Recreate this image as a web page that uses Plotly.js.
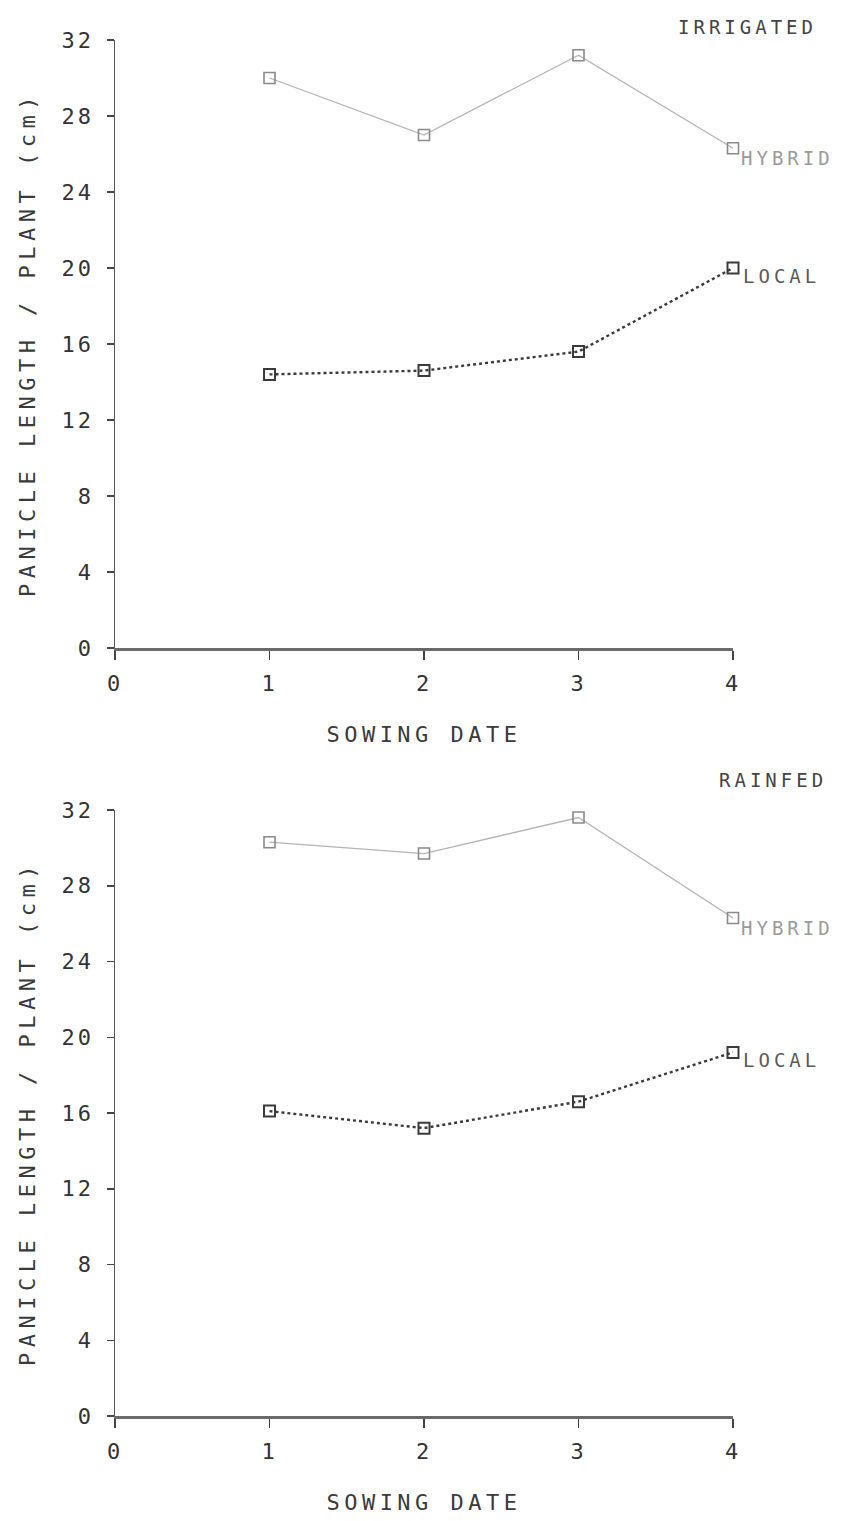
<!DOCTYPE html>
<html>
<head>
<meta charset="utf-8">
<script src="https://cdn.plot.ly/plotly-3.0.1.min.js"></script>
<style>
  html, body { margin: 0; padding: 0; background: #fff; }
  #chart { width: 854px; height: 1521px; }
  .main-svg text { letter-spacing: 3px; }
  .main-svg .xtitle, .main-svg .x2title { letter-spacing: 4.5px; }
  .main-svg .ytitle, .main-svg .y2title { letter-spacing: 5.5px; }
  .main-svg .annotation-text { letter-spacing: 4px; }
</style>
</head>
<body>
<div id="chart"></div>
<script>
// Data
const sowingDates = [1, 2, 3, 4];
const irrigatedHybrid = [30.0, 27.0, 31.2, 26.3];
const irrigatedLocal  = [14.4, 14.6, 15.6, 20.0];
const rainfedHybrid   = [30.3, 29.7, 31.6, 26.3];
const rainfedLocal    = [16.1, 15.2, 16.6, 19.2];
const xTickVals = [0, 1, 2, 3, 4];
const yTickVals = [0, 4, 8, 12, 16, 20, 24, 28, 32];
const panelTitles = ['IRRIGATED', 'RAINFED'];
const seriesNames = ['HYBRID', 'LOCAL'];
const xTitle = 'SOWING DATE';
const yTitle = 'PANICLE LENGTH / PLANT (cm)';

const FONT = 'DejaVu Sans Mono, Liberation Mono, monospace';

function hybridTrace(y, xa, ya) {
  return {
    x: sowingDates, y: y, xaxis: xa, yaxis: ya, name: seriesNames[0],
    mode: 'lines+markers', cliponaxis: false,
    line: { color: '#b4b4b4', width: 1.3 },
    marker: { symbol: 'square-open', size: 11, color: '#8a8a8a', line: { width: 1.6, color: '#8a8a8a' } }
  };
}
function localTrace(y, xa, ya) {
  return {
    x: sowingDates, y: y, xaxis: xa, yaxis: ya, name: seriesNames[1],
    mode: 'lines+markers', cliponaxis: false,
    line: { color: '#3a3a3a', width: 2.4, dash: 'dot' },
    marker: { symbol: 'square-open', size: 11, color: '#3a3a3a', line: { width: 2, color: '#3a3a3a' } }
  };
}

const data = [
  hybridTrace(irrigatedHybrid, 'x', 'y'),
  localTrace(irrigatedLocal, 'x', 'y'),
  hybridTrace(rainfedHybrid, 'x2', 'y2'),
  localTrace(rainfedLocal, 'x2', 'y2')
];

function xAxis(anchor) {
  return {
    domain: [0, 1], anchor: anchor, range: [0, 4], tickvals: xTickVals,
    showgrid: false, zeroline: false, showline: true, linecolor: '#6a6a6a', linewidth: 2.5,
    ticks: 'outside', ticklen: 9, tickwidth: 1.5, tickcolor: '#444',
    ticklabelstandoff: 5,
    tickfont: { family: FONT, size: 22, color: '#333' },
    title: { text: xTitle, font: { family: FONT, size: 22, color: '#3a3a3a' }, standoff: 32 },
    automargin: false, fixedrange: true
  };
}
function yAxis(domain, anchor) {
  return {
    domain: domain, anchor: anchor, range: [0, 32], tickvals: yTickVals,
    showgrid: false, zeroline: false, showline: true, linecolor: '#555', linewidth: 1.5,
    ticks: 'outside', ticklen: 7, tickwidth: 1.5, tickcolor: '#444',
    ticklabelstandoff: 8,
    tickfont: { family: FONT, size: 22, color: '#333' },
    title: { text: yTitle, font: { family: FONT, size: 22, color: '#3a3a3a' }, standoff: 26 },
    automargin: false, fixedrange: true
  };
}

const topDomain = [1 - 648 / 1521, 1 - 40 / 1521];
const botDomain = [1 - 1416 / 1521, 1 - 810 / 1521];

function seriesLabel(text, xa, ya, yVal, color, yshift) {
  return {
    text: text, xref: xa, yref: ya, x: 4, y: yVal, xanchor: 'left', yanchor: 'middle',
    xshift: 18, yshift: yshift, showarrow: false,
    font: { family: FONT, size: 19, color: color }
  };
}

const layout = {
  width: 854, height: 1521,
  margin: { l: 115, r: 121, t: 0, b: 0 },
  paper_bgcolor: '#ffffff', plot_bgcolor: '#ffffff',
  showlegend: false,
  xaxis: xAxis('y'),
  yaxis: yAxis(topDomain, 'x'),
  xaxis2: xAxis('y2'),
  yaxis2: yAxis(botDomain, 'x2'),
  annotations: [
    { text: panelTitles[0], xref: 'paper', yref: 'paper', x: (694 - 115) / 618, y: 1 - 27 / 1521,
      xanchor: 'left', yanchor: 'middle', showarrow: false,
      font: { family: FONT, size: 19, color: '#444' } },
    { text: panelTitles[1], xref: 'paper', yref: 'paper', x: (731 - 115) / 618, y: 1 - 780 / 1521,
      xanchor: 'left', yanchor: 'middle', showarrow: false,
      font: { family: FONT, size: 19, color: '#444' } },
    seriesLabel(seriesNames[0], 'x', 'y', irrigatedHybrid[3], '#9a9a9a', -10),
    seriesLabel(seriesNames[1], 'x', 'y', irrigatedLocal[3], '#5a5a5a', -8),
    seriesLabel(seriesNames[0], 'x2', 'y2', rainfedHybrid[3], '#9a9a9a', -10),
    seriesLabel(seriesNames[1], 'x2', 'y2', rainfedLocal[3], '#5a5a5a', -8)
  ]
};
layout.xaxis.domain = [0, 1];
layout.xaxis2.domain = [0, 1];

Plotly.newPlot('chart', data, layout, { staticPlot: true, displayModeBar: false });
</script>
</body>
</html>
